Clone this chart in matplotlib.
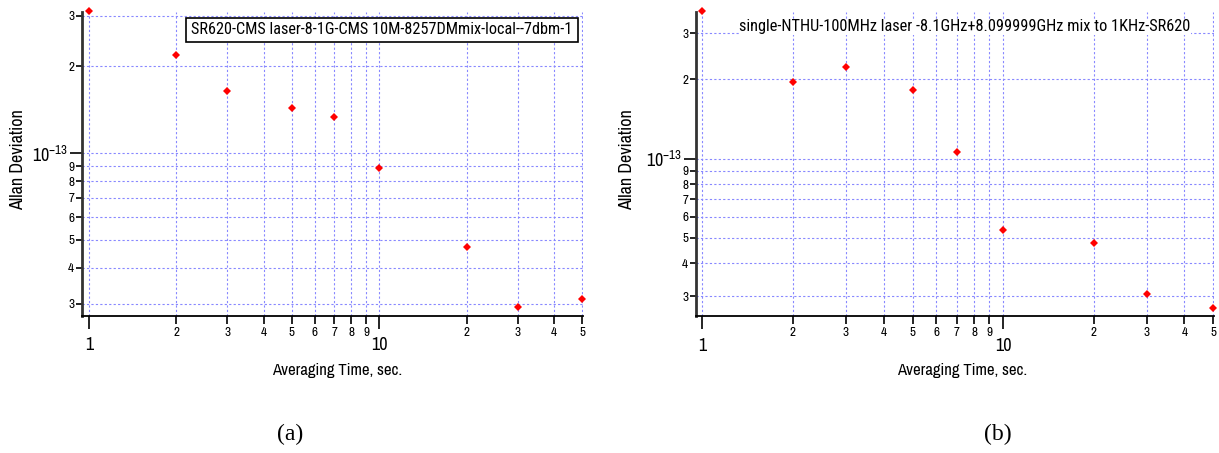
import numpy as np
import matplotlib
matplotlib.use("Agg")
import matplotlib.pyplot as plt
from matplotlib.ticker import FixedLocator, FuncFormatter

narrow = ['Arial Narrow', 'Liberation Sans Narrow', 'Archivo Narrow', 'PT Sans Narrow',
          'Roboto Condensed', 'Liberation Sans', 'DejaVu Sans']
plt.rcParams['font.family'] = narrow
plt.rcParams['mathtext.fontset'] = 'custom'
plt.rcParams['mathtext.rm'] = 'Roboto Condensed'

# averaging time (s)
tau = [1, 2, 3, 5, 7, 10, 20, 30, 50]
# Allan deviation, panel (a)
adev_a = [3.11e-13, 2.19e-13, 1.65e-13, 1.43e-13, 1.34e-13, 8.9e-14, 4.71e-14, 2.92e-14, 3.12e-14]
# Allan deviation, panel (b)
adev_b = [3.63e-13, 1.95e-13, 2.24e-13, 1.82e-13, 1.06e-13, 5.34e-14, 4.78e-14, 3.05e-14, 2.70e-14]

title_a = "SR620-CMS laser-8-1G-CMS 10M-8257DMmix-local--7dbm-1"
title_b = "single-NTHU-100MHz laser -8.1GHz+8.099999GHz mix to 1KHz-SR620"

# tick positions shown on the log axes
x_major = [1, 10]
x_minor = [2, 3, 4, 5, 6, 7, 8, 9, 20, 30, 40, 50]
y_major = [1e-13]
y_minor = [3e-14, 4e-14, 5e-14, 6e-14, 7e-14, 8e-14, 9e-14, 2e-13, 3e-13]

W, H = 1219, 453
fig = plt.figure(figsize=(W / 100, H / 100), dpi=100)


def lead_digit(v, pos=None):
    e = np.floor(np.log10(v) + 1e-9)
    return str(int(round(v / 10 ** e)))


def make_axes(px_left, px_right, px_top, px_bottom, xlim, ylim, tau, adev):
    ax = fig.add_axes([px_left / W, (H - px_bottom) / H,
                       (px_right - px_left) / W, (px_bottom - px_top) / H])
    ax.set_xscale('log')
    ax.set_yscale('log')
    ax.set_xlim(*xlim)
    ax.set_ylim(*ylim)
    ax.plot(tau, adev, linestyle='none', marker='D', markersize=4.4,
            color='red', markeredgewidth=0, clip_on=False, zorder=5)

    for s in ['top', 'right']:
        ax.spines[s].set_visible(False)
    ax.spines['left'].set_linewidth(2)
    ax.spines['left'].set_color('#333333')
    ax.spines['bottom'].set_linewidth(1.3)

    ax.xaxis.set_major_locator(FixedLocator(x_major))
    ax.xaxis.set_minor_locator(FixedLocator(x_minor))
    ax.xaxis.set_major_formatter(FuncFormatter(lambda v, p: f"{v:g}"))
    ax.xaxis.set_minor_formatter(FuncFormatter(lead_digit))
    ax.yaxis.set_major_locator(FixedLocator(y_major))
    ax.yaxis.set_minor_locator(FixedLocator([v for v in y_minor if ylim[0] <= v <= ylim[1]]))
    ax.yaxis.set_major_formatter(FuncFormatter(lambda v, p: r"$\mathregular{10^{%d}}$" % round(np.log10(v))))
    ax.yaxis.set_minor_formatter(FuncFormatter(lead_digit))

    ax.tick_params(axis='x', which='major', direction='out', length=9.5, width=1.2,
                   labelsize=13, pad=6)
    ax.tick_params(axis='x', which='minor', direction='out', length=5.8, width=1.2,
                   labelsize=9.5, pad=2)
    ax.tick_params(axis='y', which='major', direction='out', length=9, width=1.2,
                   labelsize=13, pad=1)
    ax.tick_params(axis='y', which='minor', direction='out', length=4, width=1.2,
                   labelsize=9.5, pad=1.5)

    ax.grid(True, which='both', color='#8888ff', linestyle=(0, (2, 2)), linewidth=0.8)
    ax.set_axisbelow(True)
    return ax


ax_a = make_axes(81.7, 582.5, 12, 315.7, (0.944, 50.1), (2.73e-14, 3.09e-13), tau, adev_a)
ax_b = make_axes(695.7, 1214, 11.7, 316, (0.95, 50.2), (2.52e-14, 3.62e-13), tau, adev_b)

title_font = ['Roboto Condensed', 'Liberation Sans', 'DejaVu Sans']
fig.text(382 / W, 1 - 30 / H, title_a, ha='center', va='center', fontsize=11.7, family=title_font,
         bbox=dict(boxstyle='square,pad=0.3', facecolor='white', edgecolor='black', linewidth=1.2))
fig.text(965 / W, 1 - 27 / H, title_b, ha='center', va='center', fontsize=11.8, family=title_font,
         bbox=dict(boxstyle='square,pad=0.05', facecolor='white', edgecolor='none'))

for xc in [18, 627]:
    fig.text(xc / W, 1 - 160 / H, "Allan Deviation", rotation=90, ha='center', va='center', fontsize=13)
fig.text(337 / W, 1 - 370 / H, "Averaging Time, sec.", ha='center', va='center', fontsize=12)
fig.text(962 / W, 1 - 370 / H, "Averaging Time, sec.", ha='center', va='center', fontsize=12)

fig.text(290 / W, 1 - 434 / H, "(a)", ha='center', va='center', fontsize=17, family='Liberation Serif')
fig.text(998 / W, 1 - 434 / H, "(b)", ha='center', va='center', fontsize=17, family='Liberation Serif')

fig.savefig("out.png", dpi=100)
